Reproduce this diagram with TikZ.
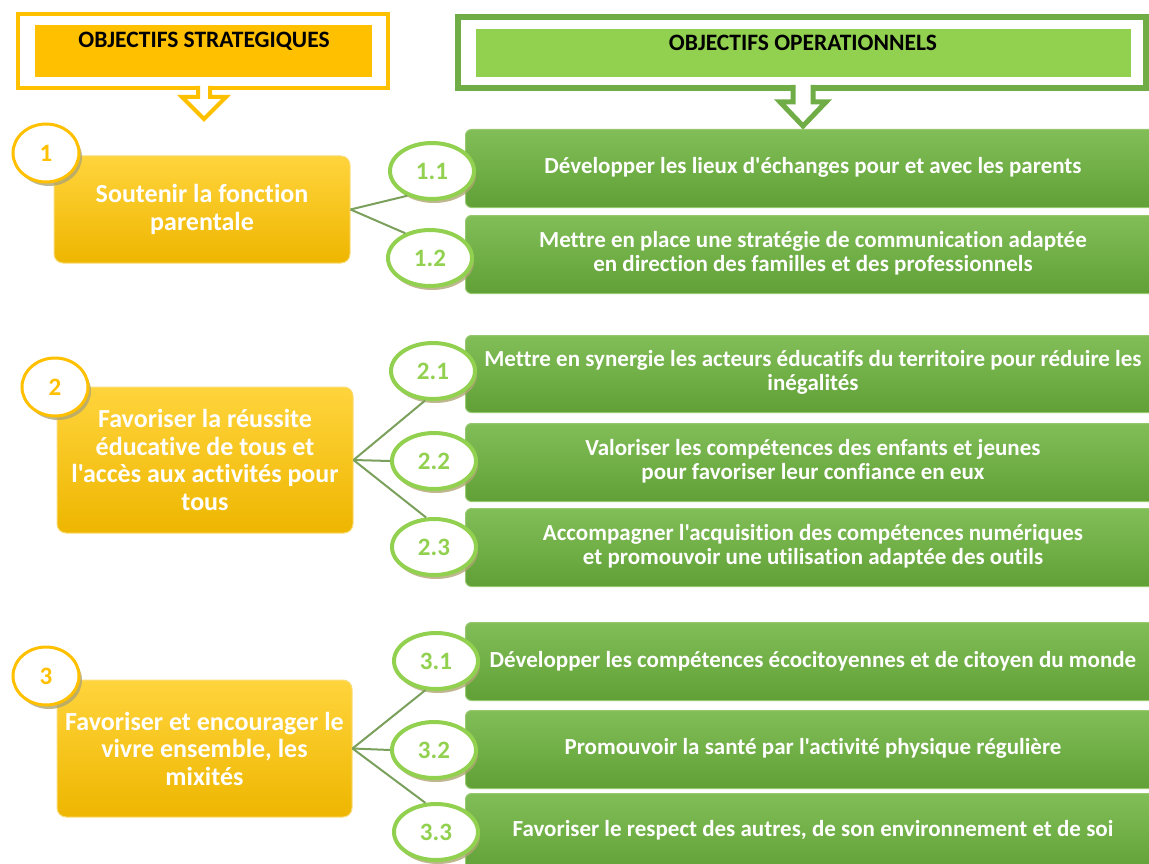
\documentclass[tikz,border=0pt]{standalone}
\usepackage{fontspec}
\defaultfontfeatures{}
\setmainfont{Carlito}[Ligatures={NoCommon,TeXOff}]
\usetikzlibrary{shapes.geometric,shadows}
\newcommand\apo{'}
\definecolor{gold}{RGB}{255,192,0}
\definecolor{ytop}{RGB}{255,212,60}
\definecolor{ybot}{RGB}{238,182,0}
\definecolor{gframe}{RGB}{112,173,71}
\definecolor{gfill}{RGB}{146,208,80}
\definecolor{gtop}{RGB}{130,190,88}
\definecolor{gbot}{RGB}{96,160,54}
\definecolor{gedge}{RGB}{150,200,110}
\definecolor{lgreen}{RGB}{146,208,80}
\definecolor{linkc}{RGB}{122,160,92}
\definecolor{shad}{RGB}{175,165,115}
\tikzset{
  stratbox/.style={draw={rgb,255:red,250;green,220;blue,120}, line width=1pt, top color=ytop, bottom color=ybot,
    rounded corners=9pt, minimum width=296pt, text=white, font=\fontsize{26}{27.5}\selectfont\bfseries,
    align=center, inner sep=0pt},
  opbox/.style={draw=gedge, line width=1pt, top color=gtop, bottom color=gbot, rounded corners=6pt,
    minimum width=700pt, minimum height=78pt, anchor=north west, inner sep=0pt},
  optext/.style={text=white, font=\fontsize{23}{24}\selectfont\bfseries, align=center},
  opnum/.style={ellipse, draw=lgreen, line width=4pt, fill=white, minimum width=84pt, minimum height=56pt,
    inner sep=0pt, text=lgreen, font=\fontsize{25}{26}\selectfont\bfseries,
    drop shadow={shadow xshift=2pt, shadow yshift=-4pt, fill=shad, opacity=0.8}},
  stnum/.style={ellipse, draw=gold, line width=3pt, fill=white, minimum width=66pt, minimum height=58pt,
    inner sep=0pt, text=gold, font=\fontsize{25}{26}\selectfont\bfseries,
    drop shadow={shadow xshift=3pt, shadow yshift=-4pt, fill=shad, opacity=0.8}},
  link/.style={draw=linkc, line width=2pt},
  hdr/.style={font=\fontsize{23.5}{25}\selectfont\bfseries, text=black}
}
\begin{document}
\begin{tikzpicture}[x=1pt,y=-1pt]
\useasboundingbox (0,0) rectangle (1149,864);
% headers
\draw[gold, line width=4pt] (18,14) rectangle (388,88);
\fill[gold] (35,25) rectangle (372,77);
\node[hdr] (hs) at (204,41) {OBJECTIFS STRATEGIQUES};
\filldraw[draw=gold, fill=white, line width=4pt, line join=miter] (198,86) -- (198,97) -- (182,97) -- (204,119) -- (226,97) -- (210,97) -- (210,86);
\draw[gframe, line width=6pt] (458,17) rectangle (1146,88);
\fill[gfill] (476,29) rectangle (1131,77);
\node[hdr] (ho) at (803,43) {OBJECTIFS OPERATIONNELS};
\filldraw[draw=gframe, fill=white, line width=5pt, line join=miter] (793,85) -- (793,102) -- (780,102) -- (803,126) -- (826,102) -- (813,102) -- (813,85);
% strategic boxes
\node[stratbox, minimum height=107pt] (s1) at (202,209.5) {Soutenir la fonction\\parentale};
\node[stratbox, minimum height=146pt, minimum width=296pt] (s2) at (205,460) {Favoriser la réussite\\éducative de tous et\\l\apo accès aux activités pour\\tous};
\node[stratbox, minimum height=137pt, minimum width=295pt] (s3) at (204.5,748.5) {Favoriser et encourager le\\vivre ensemble, les\\mixités};
% operational boxes
\node[opbox] (b11) at (465,129) {};
\node[opbox] (b12) at (465,215) {};
\node[opbox, minimum height=77pt] (b21) at (465,335) {};
\node[opbox] (b22) at (465,423) {};
\node[opbox] (b23) at (465,508) {};
\node[opbox] (b31) at (465,622) {};
\node[opbox] (b32) at (465,710) {};
\node[opbox, minimum height=80pt] (b33) at (465,793) {};
\node[optext] (t11) at (813,167) {Développer les lieux d\apo échanges pour et avec les parents};
\node[optext] (t12) at (813,253) {Mettre en place une stratégie de communication adaptée\\en direction des familles et des professionnels};
\node[optext] (t21) at (813,372) {Mettre en synergie les acteurs éducatifs du territoire pour réduire les\\inégalités};
\node[optext] (t22) at (813,461) {Valoriser les compétences des enfants et jeunes\\pour favoriser leur confiance en eux};
\node[optext] (t23) at (813,546) {Accompagner l\apo acquisition des compétences numériques\\et promouvoir une utilisation adaptée des outils};
\node[optext] (t31) at (813,661) {Développer les compétences écocitoyennes et de citoyen du monde};
\node[optext] (t32) at (813,748) {Promouvoir la santé par l\apo activité physique régulière};
\node[optext] (t33) at (813,830) {Favoriser le respect des autres, de son environnement et de soi};
% number circles
\node[stnum] (n1) at (46,153) {1};
\node[stnum] (n2) at (55,387) {2};
\node[stnum] (n3) at (46,676) {3};
\node[opnum] (e11) at (432,171) {1.1};
\node[opnum] (e12) at (430,258) {1.2};
\node[opnum] (e21) at (433,371) {2.1};
\node[opnum] (e22) at (434,461) {2.2};
\node[opnum] (e23) at (434,547) {2.3};
\node[opnum] (e31) at (436,661) {3.1};
\node[opnum] (e32) at (434,750) {3.2};
\node[opnum] (e33) at (436,832) {3.3};
% links
\draw[link] (s1.east) -- (e11.225);
\draw[link] (s1.east) -- (e12.135);
\draw[link] (s2.east) -- (e21.255);
\draw[link] (s2.east) -- (e22.west);
\draw[link] (s2.east) -- (e23.105);
\draw[link] (s3.east) -- (e31.250);
\draw[link] (s3.east) -- (e32.west);
\draw[link] (s3.east) -- (e33.110);
\end{tikzpicture}
\end{document}
